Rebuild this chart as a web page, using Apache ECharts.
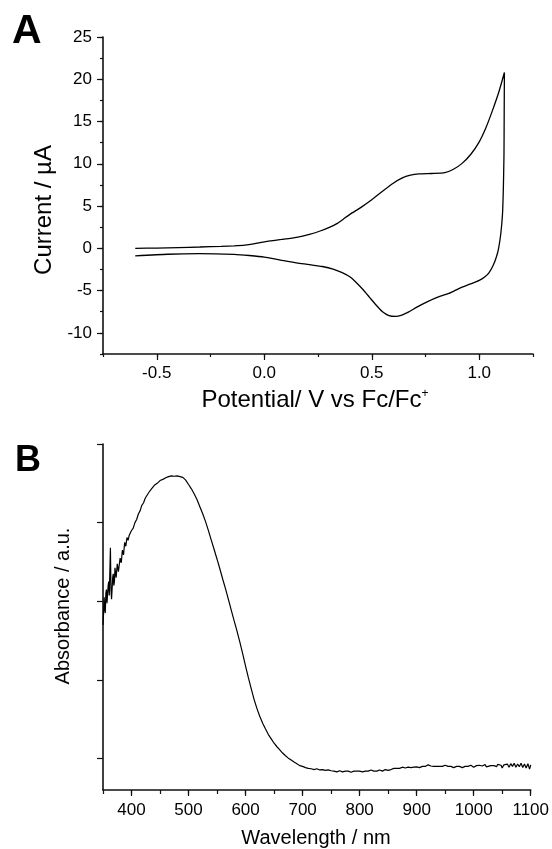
<!DOCTYPE html>
<html><head><meta charset="utf-8">
<script src="https://cdn.jsdelivr.net/npm/echarts@6/dist/echarts.min.js"></script>
<style>html,body{margin:0;padding:0;background:#fff}#c{width:552px;height:849px}</style>
</head><body><div id="c"></div>
<script>
// ---- Panel A: cyclic voltammogram (forward then reverse scan) ----
const cvPotential = [
  -0.60,-0.50,-0.40,-0.30,-0.20,-0.14,-0.09,-0.05,-0.02,0.02,0.08,0.15,0.21,0.26,0.30,0.34,0.37,0.40,0.45,0.50,0.55,0.60,0.64,0.68,0.72,0.78,0.84,0.88,0.92,0.96,1.00,1.03,1.06,1.09,1.117,
  1.116,1.115,1.112,1.108,1.100,1.090,1.080,1.065,1.045,1.025,1.00,0.96,0.92,0.87,0.81,0.76,0.71,0.67,0.64,0.61,0.58,0.55,0.52,0.49,0.46,0.43,0.40,0.36,0.32,0.27,0.21,0.15,0.09,0.00,-0.07,-0.14,-0.30,-0.45,-0.60
];
const cvCurrent = [
  0.00,0.03,0.09,0.16,0.24,0.30,0.38,0.52,0.68,0.85,1.05,1.30,1.65,2.05,2.45,2.95,3.50,4.05,4.85,5.75,6.75,7.70,8.30,8.65,8.80,8.85,8.95,9.35,10.05,11.10,12.60,14.20,16.20,18.40,20.80,
  16.0,11.0,7.0,4.0,1.7,0.0,-1.0,-2.0,-2.9,-3.4,-3.8,-4.2,-4.6,-5.2,-5.75,-6.3,-6.95,-7.55,-7.9,-8.05,-7.95,-7.5,-6.7,-5.8,-4.9,-4.1,-3.4,-2.85,-2.45,-2.15,-1.92,-1.72,-1.45,-1.03,-0.85,-0.72,-0.63,-0.70,-0.90
];
const cvXMajor = [-0.5, 0.0, 0.5, 1.0];
const cvYMajor = [-10, -5, 0, 5, 10, 15, 20, 25];

// ---- Panel B: absorption spectrum ----
const absWavelength = [
  350,351,352,353,354,355,356,357,358,359,360,361,362,363,364,365,366,367,368,369,370,371,372,373,374,375,376,377,378,380,382,384,386,388,390,392,394,396,398,
  400,403,406,409,412,415,418,421,424,427,430,435,440,445,450,455,460,465,470,475,480,485,490,495,500,505,510,515,520,525,530,535,540,545,550,555,560,565,570,575,580,585,590,595,
  600,605,610,615,620,625,630,635,640,645,650,655,660,665,670,675,680,685,690,695,700,705,710,715,720,725,730,735,740,745,750,755,760,765,770,775,780,785,790,795,
  800,805,810,815,820,825,830,835,840,845,850,855,860,865,870,875,880,885,890,895,900,905,910,915,920,925,930,935,940,945,950,955,960,965,970,975,980,985,990,995,
  1000,1005,1010,1015,1020,1022,1025,1030,1033,1036,1040,1042,1045,1048,1050,1053,1056,1059,1062,1065,1068,1071,1074,1077,1080,1083,1086,1089,1092,1095,1098,1100
];
const absValue = [
  0.440,0.470,0.510,0.480,0.470,0.520,0.530,0.495,0.490,0.540,0.550,0.515,0.520,0.636,0.530,0.505,0.500,0.560,0.570,0.540,0.550,0.585,0.590,0.560,0.560,0.595,0.600,0.575,0.580,0.610,0.598,0.630,0.618,0.650,0.640,0.662,0.655,0.668,0.670,
  0.680,0.686,0.700,0.708,0.722,0.730,0.744,0.750,0.762,0.766,0.776,0.786,0.795,0.800,0.807,0.810,0.814,0.817,0.819,0.818,0.819,0.817,0.815,0.808,0.797,0.786,0.773,0.758,0.740,0.722,0.702,0.679,0.655,0.631,0.607,0.582,0.556,0.531,0.504,0.477,0.450,0.424,0.396,0.366,
  0.335,0.305,0.277,0.250,0.227,0.207,0.190,0.175,0.161,0.150,0.139,0.130,0.122,0.114,0.107,0.101,0.096,0.091,0.087,0.082,0.080,0.077,0.075,0.074,0.072,0.074,0.071,0.072,0.070,0.071,0.069,0.068,0.066,0.069,0.066,0.068,0.068,0.065,0.068,0.068,
  0.068,0.066,0.068,0.068,0.071,0.068,0.068,0.071,0.068,0.072,0.070,0.072,0.075,0.075,0.075,0.078,0.076,0.078,0.077,0.078,0.079,0.077,0.080,0.080,0.084,0.081,0.080,0.080,0.080,0.080,0.083,0.080,0.080,0.077,0.080,0.080,0.077,0.080,0.080,0.083,
  0.078,0.082,0.083,0.081,0.085,0.079,0.083,0.082,0.077,0.082,0.079,0.085,0.080,0.083,0.076,0.084,0.080,0.086,0.078,0.087,0.080,0.088,0.078,0.086,0.079,0.088,0.077,0.086,0.076,0.087,0.073,0.084
];
const absXMajor = [400, 500, 600, 700, 800, 900, 1000, 1100];
const absYTicks = [0.1, 0.3, 0.5, 0.7, 0.9];

const FONT = 'Liberation Sans, Arial, Helvetica, sans-serif';
const AX = '#111';

const chart = echarts.init(document.getElementById('c'), null, {renderer: 'canvas'});

function baseAxis(extra) {
  return Object.assign({
    type: 'value',
    splitLine: {show: false},
    axisLine: {show: true, onZero: false, lineStyle: {color: AX, width: 1.6}},
    axisTick: {show: true, inside: false, length: 3, lineStyle: {color: AX, width: 1.2}},
    axisLabel: {show: false}
  }, extra);
}
function majorAxis(min, max, ticks, labelExtra, extra) {
  return Object.assign({
    type: 'value', min: min, max: max,
    splitLine: {show: false},
    axisLine: {show: false, onZero: false},
    axisTick: {show: true, inside: false, length: 6, customValues: ticks, lineStyle: {color: AX, width: 1.2}},
    axisLabel: Object.assign({show: true, customValues: ticks, color: '#000', fontFamily: FONT, fontSize: 17}, labelExtra)
  }, extra);
}

const option = {
  animation: false,
  backgroundColor: '#fff',
  grid: [
    {left: 103, top: 37, width: 430, height: 317},
    {left: 103, top: 444, width: 429, height: 346}
  ],
  xAxis: [
    baseAxis({gridIndex: 0, min: -0.75, max: 1.25, interval: 0.25, position: 'bottom'}),
    majorAxis(-0.75, 1.25, cvXMajor, {margin: 11, formatter: v => v.toFixed(1)}, {gridIndex: 0, position: 'bottom'}),
    baseAxis({gridIndex: 1, min: 350, max: 1100, interval: 50, position: 'bottom', axisTick: {show: true, length: 4, lineStyle: {color: AX, width: 1.2}}}),
    majorAxis(350, 1100, absXMajor, {margin: 12, formatter: v => String(v)}, {gridIndex: 1, position: 'bottom'})
  ],
  yAxis: [
    baseAxis({gridIndex: 0, min: -12.5, max: 25, interval: 2.5, position: 'left'}),
    majorAxis(-12.5, 25, cvYMajor, {margin: 11, formatter: v => String(v)}, {gridIndex: 0, position: 'left'}),
    baseAxis({gridIndex: 1, min: 0.02, max: 0.9, position: 'left', axisTick: {show: true, length: 6, customValues: absYTicks, lineStyle: {color: AX, width: 1.2}}})
  ],
  series: [
    {
      type: 'line', xAxisIndex: 0, yAxisIndex: 0,
      data: cvPotential.map((v, i) => [v, cvCurrent[i]]),
      showSymbol: false, smooth: 0.2,
      lineStyle: {color: '#000', width: 1.3}
    },
    {
      type: 'line', xAxisIndex: 2, yAxisIndex: 2,
      data: absWavelength.map((w, i) => [w, absValue[i]]),
      showSymbol: false,
      lineStyle: {color: '#000', width: 1.2}
    }
  ],
  graphic: [
    {type: 'text', left: 12, top: 11, style: {text: 'A', font: 'bold 41px ' + FONT, fill: '#000'}},
    {type: 'text', left: 15, top: 443, style: {text: 'B', font: 'bold 36px ' + FONT, fill: '#000'}},
    {type: 'text', x: 44, y: 210, rotation: Math.PI / 2,
      style: {text: 'Current / µA', font: '24px ' + FONT, fill: '#000', align: 'center', verticalAlign: 'middle'}},
    {type: 'text', x: 315, y: 400,
      style: {text: 'Potential/ V vs Fc/Fc{sup|+}', font: '24px ' + FONT, fill: '#000', align: 'center', verticalAlign: 'middle',
        rich: {sup: {fontSize: 12, fontFamily: FONT, verticalAlign: 'top', padding: [0, 0, 12, 0]}}}},
    {type: 'text', x: 63, y: 606, rotation: Math.PI / 2,
      style: {text: 'Absorbance / a.u.', font: '20px ' + FONT, fill: '#000', align: 'center', verticalAlign: 'middle'}},
    {type: 'text', x: 316, y: 838,
      style: {text: 'Wavelength / nm', font: '20px ' + FONT, fill: '#000', align: 'center', verticalAlign: 'middle'}}
  ]
};
chart.setOption(option);
</script>
</body></html>
